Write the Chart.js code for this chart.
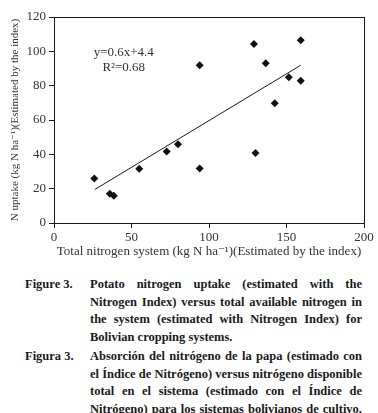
<!DOCTYPE html>
<html>
<head>
<meta charset="utf-8">
<script src="https://cdn.jsdelivr.net/npm/chart.js@4.4.1/dist/chart.umd.min.js"></script>
<style>
  html, body { margin: 0; padding: 0; background: #fff; }
  body { width: 378px; height: 413px; position: relative; overflow: hidden; }
  #wrap { position: absolute; left: 0; top: 0; width: 378px; height: 260px; }
  .cap { position: absolute; left: 25px; width: 337px; font-family: "Liberation Serif", serif;
         font-weight: bold; font-size: 12.5px; line-height: 17.5px; color: #1a1a1a; }
  .cap .lab { position: absolute; left: 0; top: 0; }
  .cap .body { position: absolute; left: 65px; width: 272px; top: 0; }
  .cap .body div { text-align: justify; text-align-last: justify; }
  .cap .body div.last { text-align-last: left; }
</style>
</head>
<body>
<div id="wrap"><canvas id="chart" width="378" height="260"></canvas></div>

<div class="cap" style="top:276px">
  <div class="lab">Figure 3.</div>
  <div class="body">
    <div>Potato nitrogen uptake (estimated with the</div>
    <div>Nitrogen Index) versus total available nitrogen in</div>
    <div>the system (estimated with Nitrogen Index) for</div>
    <div class="last">Bolivian cropping systems.</div>
  </div>
</div>
<div class="cap" style="top:348px">
  <div class="lab">Figura 3.</div>
  <div class="body">
    <div>Absorción del nitrógeno de la papa (estimado con</div>
    <div>el Índice de Nitrógeno) versus nitrógeno disponible</div>
    <div>total en el sistema (estimado con el Índice de</div>
    <div>Nitrógeno) para los sistemas bolivianos de cultivo.</div>
  </div>
</div>

<script>
// Measured points: total N in system vs. N uptake (kg N/ha)
const nSystem = [26, 36, 38.6, 55, 72.7, 80, 94, 94, 129, 130, 136.6, 142.4, 151.5, 159.2, 159.2];
const nUptake = [25.9, 17.1, 15.9, 31.6, 41.6, 45.9, 31.8, 91.9, 104.2, 40.8, 93.1, 69.8, 84.9, 82.9, 106.4];

// Regression line as drawn in the figure
const trendX = [26.3, 159.2];
const trendY = [19.5, 91.9];

const xTicks = [0, 50, 100, 150, 200];
const yTicks = [0, 20, 40, 60, 80, 100, 120];

const eqLines = ["y=0.6x+4.4", "R\u00b2=0.68"];

const serif = "'Liberation Serif', 'DejaVu Serif', serif";
const ink = "#1a1a1a";

// frame round the plot area + regression equation
const framePlugin = {
    id: "frame",
    afterDraw(chart) {
        const { ctx, chartArea: a, scales } = chart;
        ctx.save();
        ctx.strokeStyle = ink;
        ctx.lineWidth = 1;
        ctx.strokeRect(Math.round(a.left) + 0.5, Math.round(a.top) + 0.5,
            Math.round(a.right - a.left), Math.round(a.bottom - a.top));
        ctx.fillStyle = "#333";
        ctx.font = "13px " + serif;
        ctx.textAlign = "center";
        ctx.textBaseline = "middle";
        const cx = scales.x.getPixelForValue(45);
        ctx.fillText(eqLines[0], cx, scales.y.getPixelForValue(99));
        ctx.fillText(eqLines[1], cx, scales.y.getPixelForValue(90.6));
        ctx.restore();
    }
};

const ctx = document.getElementById("chart").getContext("2d");
new Chart(ctx, {
    type: "scatter",
    data: {
        datasets: [{
            data: nSystem.map((x, i) => ({ x: x, y: nUptake[i] })),
            pointStyle: "rectRot",
            pointRadius: 4,
            backgroundColor: "#111",
            borderColor: "#111",
            borderWidth: 0
        }, {
            type: "line",
            data: trendX.map((x, i) => ({ x: x, y: trendY[i] })),
            borderColor: ink,
            borderWidth: 1,
            pointRadius: 0,
            fill: false
        }]
    },
    options: {
        responsive: false,
        animation: false,
        layout: { padding: { top: 17, right: 14, left: 0, bottom: 0 } },
        plugins: { legend: { display: false }, tooltip: { enabled: false } },
        scales: {
            x: {
                type: "linear", min: 0, max: 200,
                afterBuildTicks: s => { s.ticks = xTicks.map(v => ({ value: v })); },
                afterFit: s => { s.height = 37; },
                grid: { drawOnChartArea: false, drawTicks: true, tickLength: 5, color: ink },
                border: { color: ink, width: 1 },
                ticks: { color: "#333", font: { family: serif, size: 13 }, padding: 2, maxRotation: 0 },
                title: { display: true, text: "Total nitrogen system (kg N ha\u207b\u00b9)(Estimated by the index)",
                         color: "#333", font: { family: serif, size: 13 }, padding: { top: 0, bottom: 1 } }
            },
            y: {
                type: "linear", min: 0, max: 120,
                afterBuildTicks: s => { s.ticks = yTicks.map(v => ({ value: v })); },
                afterFit: s => { s.width = 54; },
                grid: { drawOnChartArea: false, drawTicks: true, tickLength: 5, color: ink },
                border: { color: ink, width: 1 },
                ticks: { color: "#333", font: { family: serif, size: 13 }, padding: 3 },
                title: { display: true, text: "N uptake (kg N ha\u207b\u00b9)(Estimated by the index)",
                         color: "#333", font: { family: serif, size: 11 }, padding: { top: 9, bottom: 0 } }
            }
        }
    },
    plugins: [framePlugin]
});
</script>
</body>
</html>
